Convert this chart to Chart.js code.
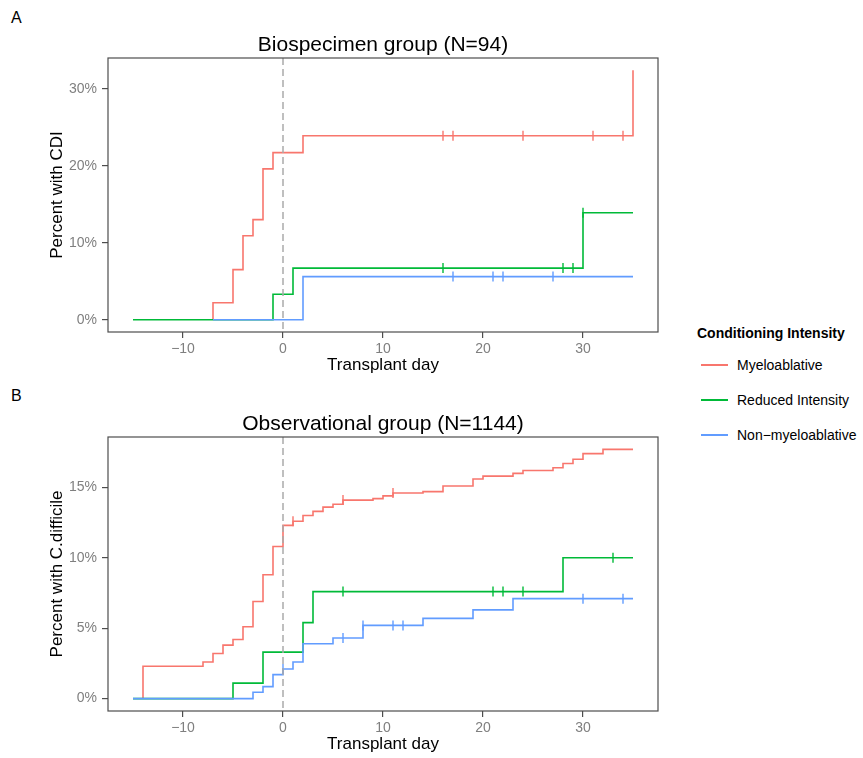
<!DOCTYPE html>
<html>
<head>
<meta charset="utf-8">
<script src="https://cdn.jsdelivr.net/npm/chart.js@4.4.0/dist/chart.umd.min.js"></script>
<style>
  body { margin: 0; background: #fff; font-family: "Liberation Sans", Arial, sans-serif; }
  #page { position: relative; width: 863px; height: 758px; overflow: hidden; background: #fff; }
  .panel { position: absolute; left: 0; }
  .tag { position: absolute; left: 11px; font-size: 16px; line-height: 18px; color: #000; }
  .leg-title { position: absolute; left: 697px; top: 324px; font-size: 14px; line-height: 18px; font-weight: bold; color: #000; white-space: nowrap; }
  .leg-row { position: absolute; left: 701px; height: 20px; white-space: nowrap; }
  .leg-line { position: absolute; left: 0; top: 9px; width: 27px; height: 2px; }
  .leg-text { position: absolute; left: 36px; top: 0; font-size: 14px; line-height: 20px; color: #000; }
</style>
</head>
<body>
<div id="page">
  <div class="tag" style="top: 9px;">A</div>
  <div class="tag" style="top: 387px;">B</div>
  <canvas id="chart-a" class="panel" width="680" height="380" style="top: 0px;"></canvas>
  <canvas id="chart-b" class="panel" width="680" height="380" style="top: 379px;"></canvas>
  <div id="legend"></div>
</div>
<script>
// groups and colours (ggplot defaults)
const GROUP_NAMES = ['Myeloablative', 'Reduced Intensity', 'Non\u2212myeloablative'];
const GROUP_COLORS = ['#F8766D', '#00BA38', '#619CFF'];

// x axis (transplant day)
const X_TICKS = [-10, 0, 10, 20, 30];
const X_MIN = -17.5, X_MAX = 37.5;
const REF_DAY = 0;

// ---- Panel A: Biospecimen group ----
const A_TITLE = 'Biospecimen group (N=94)';
const A_YLABEL = 'Percent with CDI';
const A_Y_TICKS = [0, 10, 20, 30];
const A_Y_MIN = -1.6, A_Y_MAX = 34.0;

const A_MYELO_DAYS = [-7, -7, -5, -4, -3, -2, -1, 2, 35];
const A_MYELO_PCT  = [0, 2.2, 6.5, 10.9, 13.0, 19.6, 21.7, 23.9, 32.4];
const A_MYELO_CENSOR = [16, 17, 24, 31, 34];

const A_RIC_DAYS = [-15, -1, 1, 30, 35];
const A_RIC_PCT  = [0, 3.3, 6.7, 13.9, 13.9];
const A_RIC_CENSOR = [16, 28, 29, 30];

const A_NMA_DAYS = [-7, 2, 35];
const A_NMA_PCT  = [0, 5.6, 5.6];
const A_NMA_CENSOR = [17, 21, 22, 27];

// ---- Panel B: Observational group ----
const B_TITLE = 'Observational group (N=1144)';
const B_YLABEL = 'Percent with C.difficile';
const B_Y_TICKS = [0, 5, 10, 15];
const B_Y_MIN = -0.88, B_Y_MAX = 18.58;

const B_MYELO_DAYS = [-14, -14, -8, -7, -6, -5, -4, -3, -2, -1, 0, 1, 2, 3, 4, 5, 6, 9, 10, 11, 14, 16, 19, 20, 23, 24, 27, 28, 29, 30, 32, 35];
const B_MYELO_PCT  = [0, 2.3, 2.6, 3.2, 3.8, 4.2, 5.1, 6.9, 8.8, 10.8, 12.3, 12.6, 13.0, 13.3, 13.6, 13.8, 14.1, 14.2, 14.4, 14.6, 14.7, 15.1, 15.6, 15.8, 16.0, 16.2, 16.4, 16.7, 17.0, 17.4, 17.7, 17.7];
const B_MYELO_CENSOR = [1, 6, 11];

const B_RIC_DAYS = [-15, -5, -2, 2, 3, 28, 35];
const B_RIC_PCT  = [0, 1.1, 3.3, 5.4, 7.6, 10.0, 10.0];
const B_RIC_CENSOR = [6, 21, 22, 24, 33];

const B_NMA_DAYS = [-15, -3, -2, -1, 0, 1, 2, 5, 8, 14, 19, 23, 35];
const B_NMA_PCT  = [0, 0.45, 0.85, 1.7, 2.1, 2.6, 3.9, 4.3, 5.2, 5.7, 6.3, 7.1, 7.1];
const B_NMA_CENSOR = [0, 6, 8, 11, 12, 30, 34];

Chart.defaults.font.family = '"Liberation Sans", Arial, sans-serif';

// step value of a curve at a given day (for placing censor marks)
function valueAt(days, pct, day) {
    let v = pct[0];
    for (let i = 0; i < days.length; i++) {
        if (days[i] <= day) v = pct[i];
    }
    return v;
}

function fmtDay(v) {
    return v < 0 ? '\u2212' + Math.abs(v) : String(v);
}

function buildDatasets(curves) {
    const datasets = [];
    curves.forEach((c, i) => {
        const color = GROUP_COLORS[i];
        const order = 3 - i; // last group drawn on top, like ggplot
        datasets.push({
            label: GROUP_NAMES[i],
            data: c.days.map((d, k) => ({ x: d, y: c.pct[k] })),
            borderColor: color,
            borderWidth: 1.6,
            stepped: true,
            pointRadius: 0,
            fill: false,
            order: order
        });
        datasets.push({
            label: GROUP_NAMES[i] + ' censored',
            data: c.censor.map(d => ({ x: d, y: valueAt(c.days, c.pct, d) })),
            showLine: false,
            pointStyle: 'line',
            rotation: 90,
            pointRadius: 5,
            borderColor: color,
            pointBorderColor: color,
            pointBorderWidth: 1.4,
            order: order
        });
    });
    return datasets;
}

// panel frame, dashed day-0 line and title
const panelDecor = {
    id: 'panelDecor',
    afterDatasetsDraw(chart) {
        const { ctx, chartArea: a, scales } = chart;
        const x0 = scales.x.getPixelForValue(REF_DAY);
        ctx.save();
        ctx.strokeStyle = '#aaaaaa';
        ctx.lineWidth = 1.5;
        ctx.setLineDash([7, 4]);
        ctx.beginPath();
        ctx.moveTo(x0, a.top);
        ctx.lineTo(x0, a.bottom);
        ctx.stroke();
        ctx.setLineDash([]);
        ctx.strokeStyle = '#4d4d4d';
        ctx.lineWidth = 1.2;
        ctx.strokeRect(a.left, a.top, a.right - a.left, a.bottom - a.top);
        ctx.restore();
    },
    afterDraw(chart, args, opts) {
        const { ctx, chartArea: a } = chart;
        ctx.save();
        ctx.fillStyle = '#000';
        ctx.font = '21px "Liberation Sans", Arial, sans-serif';
        ctx.textAlign = 'center';
        ctx.textBaseline = 'middle';
        ctx.fillText(opts.text, (a.left + a.right) / 2, a.top - 13);
        ctx.restore();
    }
};

function makePanel(canvasId, title, yLabel, yTicks, yMin, yMax, curves) {
    const axisGrid = { drawOnChartArea: false, drawTicks: true, tickLength: 6, color: '#4d4d4d', lineWidth: 1.2 };
    return new Chart(document.getElementById(canvasId), {
        type: 'line',
        data: { datasets: buildDatasets(curves) },
        options: {
            responsive: false,
            animation: false,
            devicePixelRatio: 1,
            layout: { padding: { left: 43, top: 58, right: 22, bottom: 0 } },
            plugins: {
                legend: { display: false },
                tooltip: { enabled: false },
                panelDecor: { text: title }
            },
            scales: {
                x: {
                    type: 'linear',
                    min: X_MIN, max: X_MAX,
                    grid: axisGrid,
                    border: { display: false },
                    afterBuildTicks: s => { s.ticks = X_TICKS.map(v => ({ value: v })); },
                    afterFit: s => { s.height = 48; },
                    ticks: { color: '#7f7f7f', font: { size: 14 }, padding: 3, maxRotation: 0, callback: v => fmtDay(v) },
                    title: { display: true, text: 'Transplant day', color: '#000', font: { size: 17 }, padding: { top: 4, bottom: 4 } }
                },
                y: {
                    type: 'linear',
                    min: yMin, max: yMax,
                    grid: axisGrid,
                    border: { display: false },
                    afterBuildTicks: s => { s.ticks = yTicks.map(v => ({ value: v })); },
                    afterFit: s => { s.width = 65; },
                    ticks: { color: '#7f7f7f', font: { size: 14 }, padding: 5, callback: v => v + '%' },
                    title: { display: true, text: yLabel, color: '#000', font: { size: 17 }, padding: { top: 4, bottom: 4 } }
                }
            }
        },
        plugins: [panelDecor]
    });
}

makePanel('chart-a', A_TITLE, A_YLABEL, A_Y_TICKS, A_Y_MIN, A_Y_MAX, [
    { days: A_MYELO_DAYS, pct: A_MYELO_PCT, censor: A_MYELO_CENSOR },
    { days: A_RIC_DAYS, pct: A_RIC_PCT, censor: A_RIC_CENSOR },
    { days: A_NMA_DAYS, pct: A_NMA_PCT, censor: A_NMA_CENSOR }
]);

makePanel('chart-b', B_TITLE, B_YLABEL, B_Y_TICKS, B_Y_MIN, B_Y_MAX, [
    { days: B_MYELO_DAYS, pct: B_MYELO_PCT, censor: B_MYELO_CENSOR },
    { days: B_RIC_DAYS, pct: B_RIC_PCT, censor: B_RIC_CENSOR },
    { days: B_NMA_DAYS, pct: B_NMA_PCT, censor: B_NMA_CENSOR }
]);

// shared legend on the right
const LEGEND_TITLE = 'Conditioning Intensity';
const legend = document.getElementById('legend');
let html = `<div class="leg-title">${LEGEND_TITLE}</div>`;
GROUP_NAMES.forEach((name, i) => {
    const top = 355 + i * 35;
    html += `<div class="leg-row" style="top:${top}px"><div class="leg-line" style="background:${GROUP_COLORS[i]}"></div><div class="leg-text">${name}</div></div>`;
});
legend.innerHTML = html;
</script>
</body>
</html>
